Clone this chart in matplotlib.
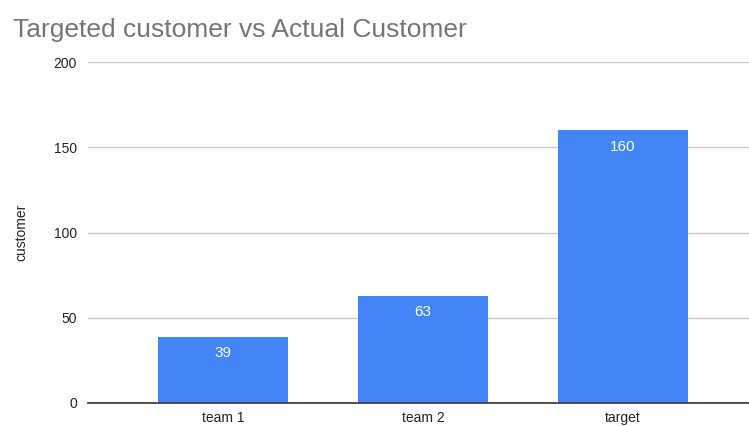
import matplotlib.pyplot as plt

plt.rcParams['font.family'] = ['Liberation Sans', 'DejaVu Sans']

categories = ["team 1", "team 2", "target"]
customers = [39, 63, 160]
y_ticks = [0, 50, 100, 150, 200]

fig = plt.figure(figsize=(7.49, 4.26), dpi=100)
ax = fig.add_axes([0.1175, 0.054, 0.8825, 0.8])

bars = ax.bar(range(len(categories)), customers, width=0.65, color="#4285F4", zorder=3)
ax.bar_label(bars, labels=[str(v) for v in customers], padding=-17,
             color="white", fontsize=11, zorder=4)

ax.set_xlim(-0.675, 2.63)
ax.set_ylim(0, 200)
ax.set_yticks(y_ticks)
ax.set_xticks(range(len(categories)))
ax.set_xticklabels(categories)
ax.tick_params(axis="both", length=0, labelsize=10, colors="#222222")
ax.tick_params(axis="y", pad=8)
ax.tick_params(axis="x", pad=6)

ax.grid(axis="y", color="#cccccc", linewidth=1, zorder=0)
for side in ["top", "right", "left"]:
    ax.spines[side].set_visible(False)
ax.spines["bottom"].set_color("#333333")
ax.spines["bottom"].set_linewidth(1.2)
ax.spines["bottom"].set_zorder(5)

ax.set_ylabel("customer", fontsize=10, color="#222222", labelpad=18)

fig.text(0.017, 0.93, "Targeted customer vs Actual Customer",
         fontsize=19, color="#757575", va="center", ha="left")

fig.savefig("out.png", dpi=100)
